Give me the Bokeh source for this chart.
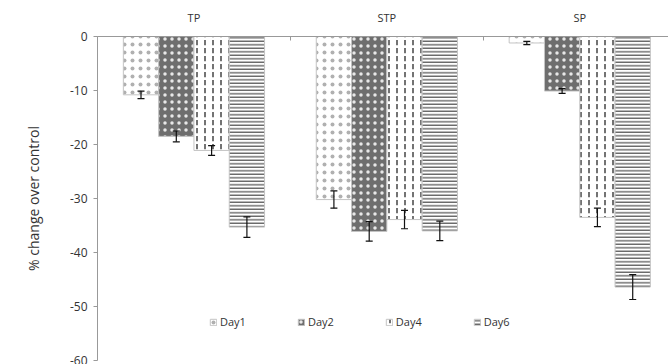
import math
from bokeh.plotting import figure
from bokeh.models import (ColumnDataSource, Range1d, FixedTicker, Whisker, TeeHead,
                          Legend, LegendItem, Title)
from bokeh.embed import file_html
from bokeh.resources import INLINE

categories = ["TP", "STP", "SP"]
days = ["Day1", "Day2", "Day4", "Day6"]
day1 = [-10.8, -30.2, -1.2]
day1_err = [0.7, 1.6, 0.3]
day2 = [-18.5, -36.1, -10.1]
day2_err = [1.0, 1.8, 0.45]
day4 = [-21.1, -33.9, -33.5]
day4_err = [0.9, 1.7, 1.7]
day6 = [-35.3, -36.0, -46.4]
day6_err = [1.9, 1.8, 2.3]
y_ticks = [0, -10, -20, -30, -40, -50, -60]

values = [day1, day2, day4, day6]
errors = [day1_err, day2_err, day4_err, day6_err]

styles = [
    dict(fill_color="white", hatch_pattern="dot", hatch_color="#b0b0b0", hatch_scale=8, hatch_weight=1),
    dict(fill_color="#6e6e6e", hatch_pattern="dot", hatch_color="#e8e8e8", hatch_scale=7, hatch_weight=1),
    dict(fill_color="white", hatch_pattern="vertical_dash", hatch_color="#444444", hatch_scale=8, hatch_weight=1.5),
    dict(fill_color="white", hatch_pattern="horizontal_line", hatch_color="#2a2a2a", hatch_scale=3.5, hatch_weight=1),
]

FONT = "Open Sans"
bar_w = 0.183

p = figure(width=668, height=364, output_backend="svg", toolbar_location=None,
           x_range=Range1d(0, 2.96), y_range=Range1d(-60, 0),
           x_axis_location="above", min_border_left=97, min_border_right=0,
           min_border_top=36, min_border_bottom=4)
p.outline_line_color = None
p.grid.grid_line_color = None
p.background_fill_color = "white"

items = []
for i, (vals, errs, st, name) in enumerate(zip(values, errors, styles, days)):
    xs = [c + 0.5 + (i - 1.5) * bar_w for c in range(len(categories))]
    src = ColumnDataSource(dict(x=xs, top=vals, upper=[v + e for v, e in zip(vals, errs)],
                                lower=[v - e for v, e in zip(vals, errs)]))
    r = p.vbar(x="x", top="top", bottom=0, width=bar_w, source=src,
               line_color="#c4c4c4", line_width=1, **st)
    items.append(LegendItem(label=name, renderers=[r]))
    w = Whisker(base="x", upper="upper", lower="lower", source=src, line_color="#111111",
                line_width=1.2, level="overlay",
                upper_head=TeeHead(size=7, line_color="#111111", line_width=1.2),
                lower_head=TeeHead(size=7, line_color="#111111", line_width=1.2))
    p.add_layout(w)

xa = p.xaxis[0]
xa.ticker = FixedTicker(ticks=[0.5, 1.5, 2.5], minor_ticks=[0, 1, 2, 3])
xa.major_label_overrides = {0.5: categories[0], 1.5: categories[1], 2.5: categories[2]}
xa.major_tick_in = 0
xa.major_tick_out = 0
xa.minor_tick_in = 4
xa.minor_tick_out = 0
xa.minor_tick_line_color = "#999999"
xa.axis_line_color = "#999999"
xa.major_label_text_font = FONT
xa.major_label_text_font_size = "11px"
xa.major_label_text_color = "#333333"
xa.major_label_standoff = 12

ya = p.yaxis[0]
ya.ticker = FixedTicker(ticks=y_ticks, minor_ticks=[])
ya.major_label_overrides = {t: str(t) for t in y_ticks}
ya.major_tick_in = 0
ya.major_tick_out = 4
ya.major_tick_line_color = "#999999"
ya.axis_line_color = "#999999"
ya.major_label_text_font = FONT
ya.major_label_text_font_size = "12px"
ya.major_label_text_color = "#333333"
ya.major_label_standoff = 6

p.add_layout(Title(text="% change over control", align="center", offset=21, standoff=44,
                   vertical_align="top",
                   text_font=FONT, text_font_size="14px", text_font_style="normal",
                   text_color="#333333"), "left")

legend = Legend(items=items, orientation="horizontal", location=(112, 31),
                glyph_width=8, glyph_height=8, label_standoff=3, spacing=51,
                padding=0, margin=0, border_line_color=None, background_fill_alpha=0,
                label_text_font=FONT, label_text_font_size="11px", label_text_color="#333333")
p.add_layout(legend)

open("out.html", "w").write(file_html(p, INLINE))
